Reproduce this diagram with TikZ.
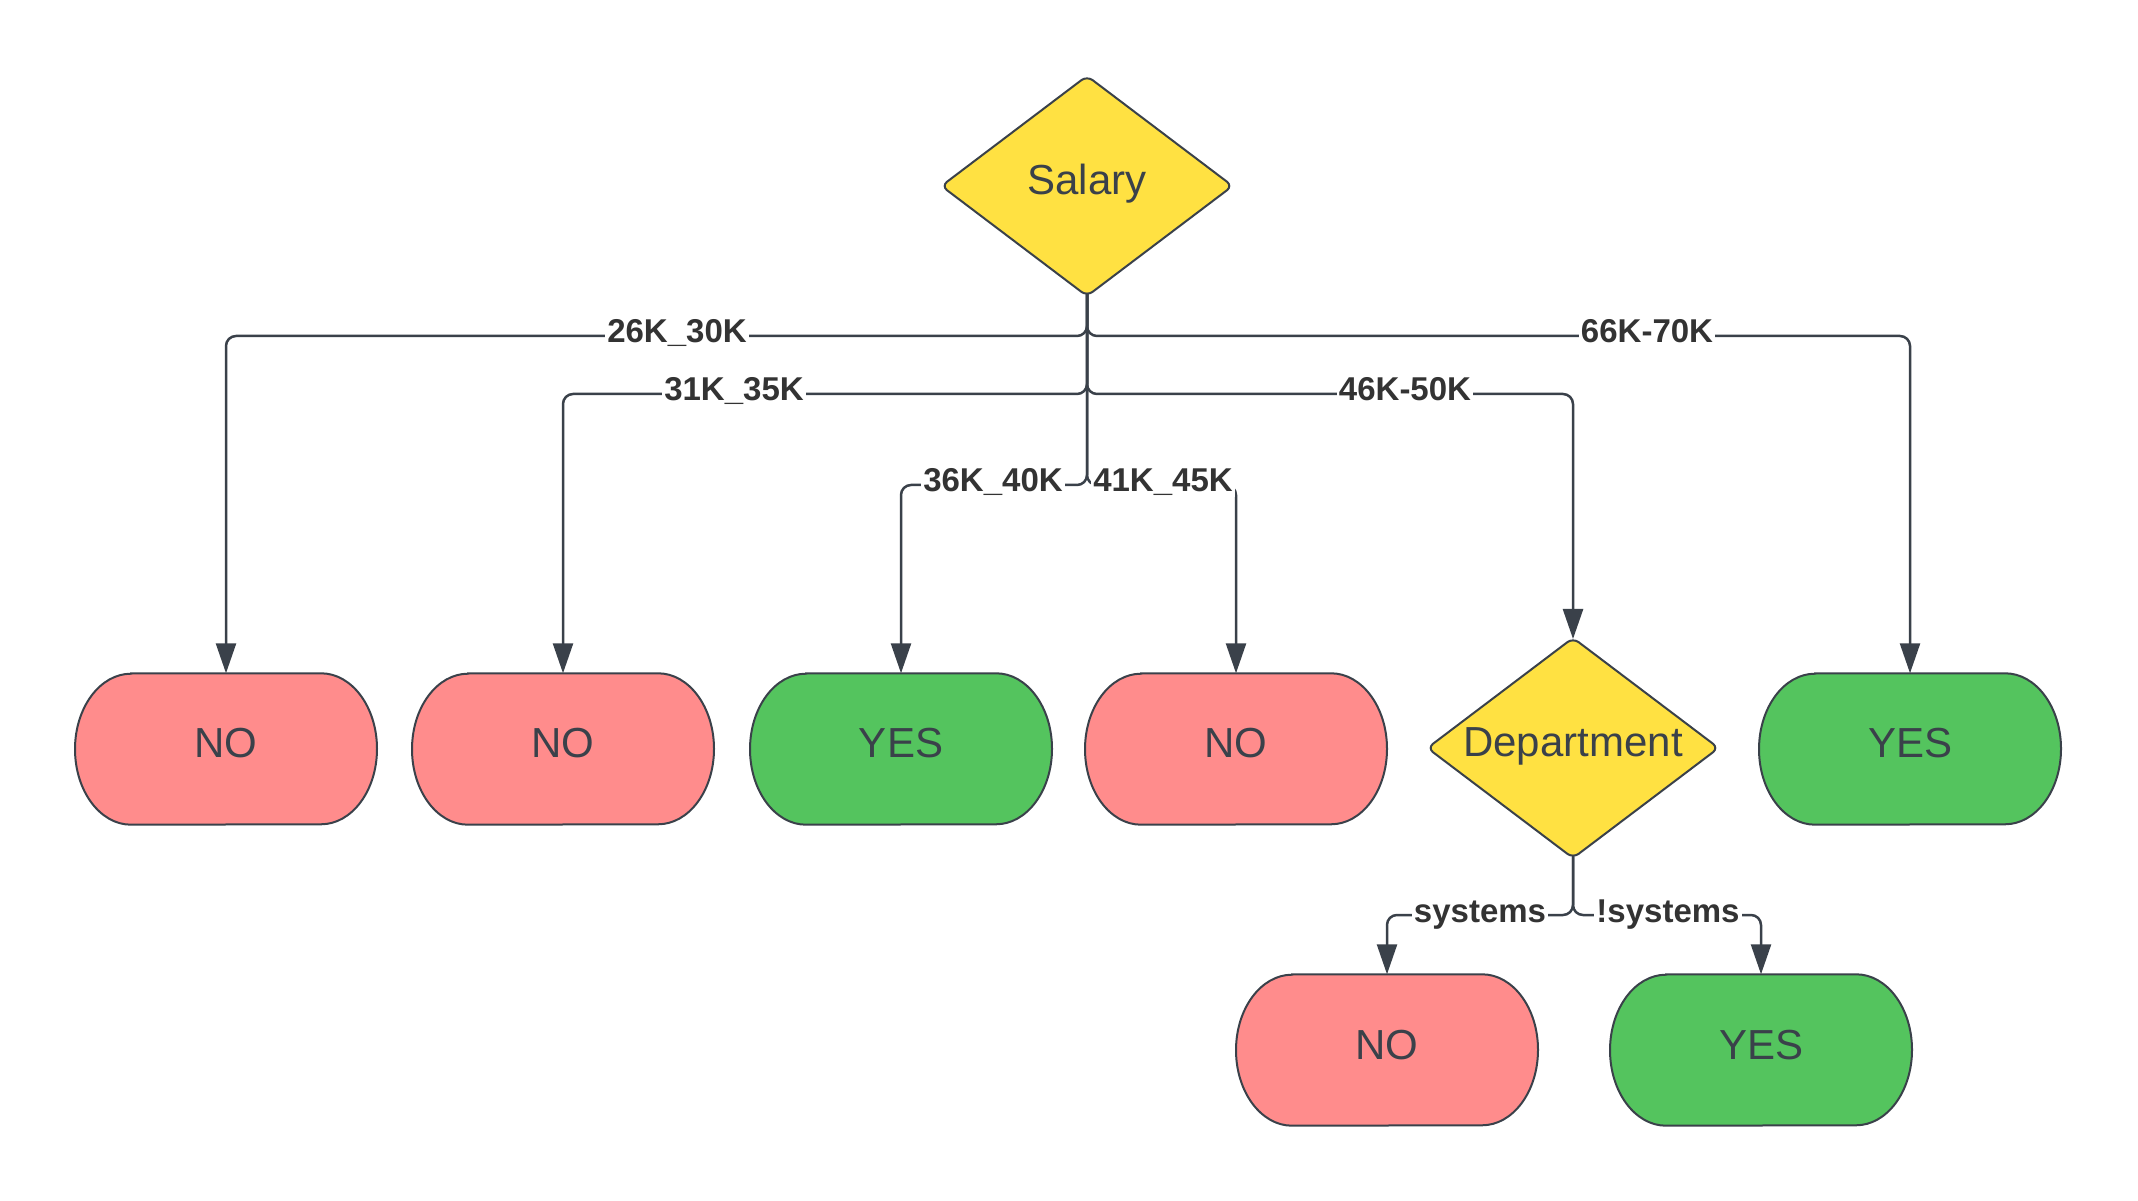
\documentclass[tikz,border=0pt]{standalone}
\usepackage{fontspec}
\setmainfont{Liberation Sans}
\usetikzlibrary{shapes.geometric,arrows.meta}
\definecolor{lc}{HTML}{3A414A}
\definecolor{tc}{HTML}{3A414A}
\definecolor{lt}{HTML}{333333}
\definecolor{yel}{HTML}{FFE142}
\definecolor{nored}{HTML}{FF8C8C}
\definecolor{yesgr}{HTML}{54C45E}
\pgfdeclarelayer{bg}
\pgfsetlayers{bg,main}
\tikzset{
  dec/.style={diamond, draw=lc, line width=2pt, fill=yel, rounded corners=7pt,
    minimum width=292pt, minimum height=221pt, inner sep=0pt, aspect=1.33,
    font=\fontsize{42}{50}\selectfont, text=tc, text height=30pt, text depth=12pt},
  term/.style={minimum width=302pt, minimum height=151pt, inner sep=0pt,
    font=\fontsize{42}{50}\selectfont, text=tc, text height=30pt, text depth=12pt},
  stad/.style={draw=lc, line width=2pt},
  conn/.style={draw=lc, line width=2.5pt, rounded corners=10pt,
    -{Triangle[length=30pt,width=20pt]}},
  lbl/.style={fill=white, inner xsep=2pt, inner ysep=1pt, anchor=base, yshift=-7pt,
    font=\bfseries\fontsize{33}{39}\selectfont, text=lt}
}
\newcommand\termnode[4]{% name, position, fill, text
  \node[term] (#1) at (#2) {#4};
  \begin{pgfonlayer}{bg}
    \filldraw[stad, fill=#3] ([xshift=-95pt]#1.north) -- ([xshift=95pt]#1.north)
      arc[start angle=90, end angle=-90, x radius=56pt, y radius=75.5pt]
      -- ([xshift=-95pt]#1.south)
      arc[start angle=270, end angle=90, x radius=56pt, y radius=75.5pt] -- cycle;
  \end{pgfonlayer}
}
\begin{document}
\begin{tikzpicture}[x=1pt,y=1pt]
\useasboundingbox (0,0) rectangle (2138,1200);

\node[dec] (sal) at (1087,1014) {Salary};
\node[dec] (dept) at (1573,452) {Department};

\termnode{n1}{226,451}{nored}{NO}
\termnode{n2}{563,451}{nored}{NO}
\termnode{n3}{901,451}{yesgr}{YES}
\termnode{n4}{1236,451}{nored}{NO}
\termnode{n6}{1910,451}{yesgr}{YES}
\termnode{b1}{1387,150}{nored}{NO}
\termnode{b2}{1761,150}{yesgr}{YES}

\coordinate (yA) at (0,864);
\coordinate (yB) at (0,806);
\coordinate (yC) at (0,715);
\coordinate (yD) at (0,285);

\begin{pgfonlayer}{bg}
\draw[conn] (sal.center) -- (sal.south |- yA) -| (n1.north);
\draw[conn] (sal.center) -- (sal.south |- yA) -| (n6.north);
\draw[conn] (sal.center) -- (sal.south |- yB) -| (n2.north);
\draw[conn] (sal.center) -- (sal.south |- yB) -| ([yshift=-2.5pt]dept.north);
\draw[conn] (sal.center) -- (sal.south |- yC) -| (n3.north);
\draw[conn] (sal.center) -- (sal.south |- yC) -| (n4.north);
\draw[conn] (dept.center) -- (dept.south |- yD) -| (b1.north);
\draw[conn] (dept.center) -- (dept.south |- yD) -| (b2.north);
\end{pgfonlayer}

\node[lbl] (l1) at (677,864) {26K\_30K};
\node[lbl] (l2) at (1647,864) {66K-70K};
\node[lbl] (l3) at (734,806) {31K\_35K};
\node[lbl] (l4) at (1405,806) {46K-50K};
\node[lbl] (l5) at (993,715) {36K\_40K};
\node[lbl] (l6) at (1163,715) {41K\_45K};
\node[lbl] (l7) at (1480,285) {systems};
\node[lbl] (l8) at (1668,285) {!systems};
\end{tikzpicture}
\end{document}
